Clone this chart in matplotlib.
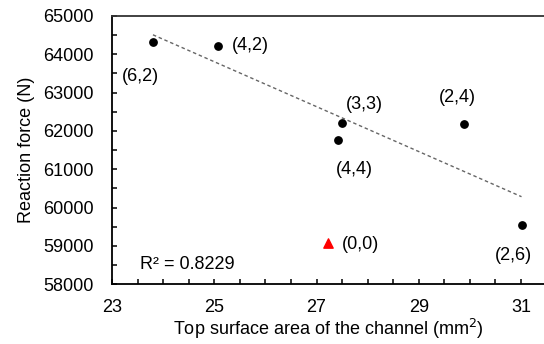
import numpy as np
import matplotlib
matplotlib.use("Agg")
import matplotlib.pyplot as plt
from matplotlib.ticker import MultipleLocator

plt.rcParams['font.family'] = ['Liberation Sans', 'DejaVu Sans']

# channel configurations and measured values
labels = ["(6,2)", "(4,2)", "(3,3)", "(4,4)", "(2,4)", "(2,6)"]
area = [23.80, 25.07, 27.49, 27.42, 29.89, 31.01]
force = [64320, 64216, 62205, 61770, 62187, 59532]

ref_label = "(0,0)"
ref_area = [27.23]
ref_force = [59079]

# label positions (data coords) and alignment
label_pos = [(23.55, 63430, 'center'), (25.35, 64217, 'left'), (27.93, 62700, 'center'),
             (27.74, 61000, 'center'), (29.75, 62880, 'center'), (30.85, 58760, 'center')]

fig = plt.figure(figsize=(5.44, 3.44), dpi=100)
ax = fig.add_axes([0.206, 0.174, 0.794, 0.7795])

ax.scatter(area, force, s=28, color='black', zorder=3)
ax.scatter(ref_area, ref_force, s=45, marker='^', color='#ff0000', zorder=3)

# linear trendline
k, b = np.polyfit(area, force, 1)
xs = np.array([min(area), max(area)])
ax.plot(xs, k * xs + b, linestyle=(0, (2.5, 2)), color='#666666', linewidth=1)

for lab, (tx, ty, ha) in zip(labels, label_pos):
    ax.text(tx, ty, lab, fontsize=13, ha=ha, va='center')
ax.text(27.50, 59045, ref_label, fontsize=13, ha='left', va='center')
ax.text(23.55, 58520, "R² = 0.8229", fontsize=13, ha='left', va='center')

ax.set_xlim(23, 31.45)
ax.set_ylim(58000, 65000)
ax.set_xticks([23, 25, 27, 29, 31])
ax.xaxis.set_minor_locator(MultipleLocator(0.5))
ax.yaxis.set_major_locator(MultipleLocator(1000))
ax.yaxis.set_minor_locator(MultipleLocator(500))
ax.tick_params(which='both', direction='in', length=3.5, width=1.1, labelsize=13)
ax.tick_params(axis='x', which='both', pad=11)
ax.tick_params(axis='y', which='both', pad=13)
ax.spines['right'].set_visible(False)
for s in ['left', 'bottom', 'top']:
    ax.spines[s].set_linewidth(1.3)
ax.spines['top'].set_color('#333333')

ax.set_xlabel("Top surface area of the channel (mm$^2$)", fontsize=13, labelpad=0)
ax.set_ylabel("Reaction force (N)", fontsize=13, labelpad=6)

fig.savefig("out.png", dpi=100)
